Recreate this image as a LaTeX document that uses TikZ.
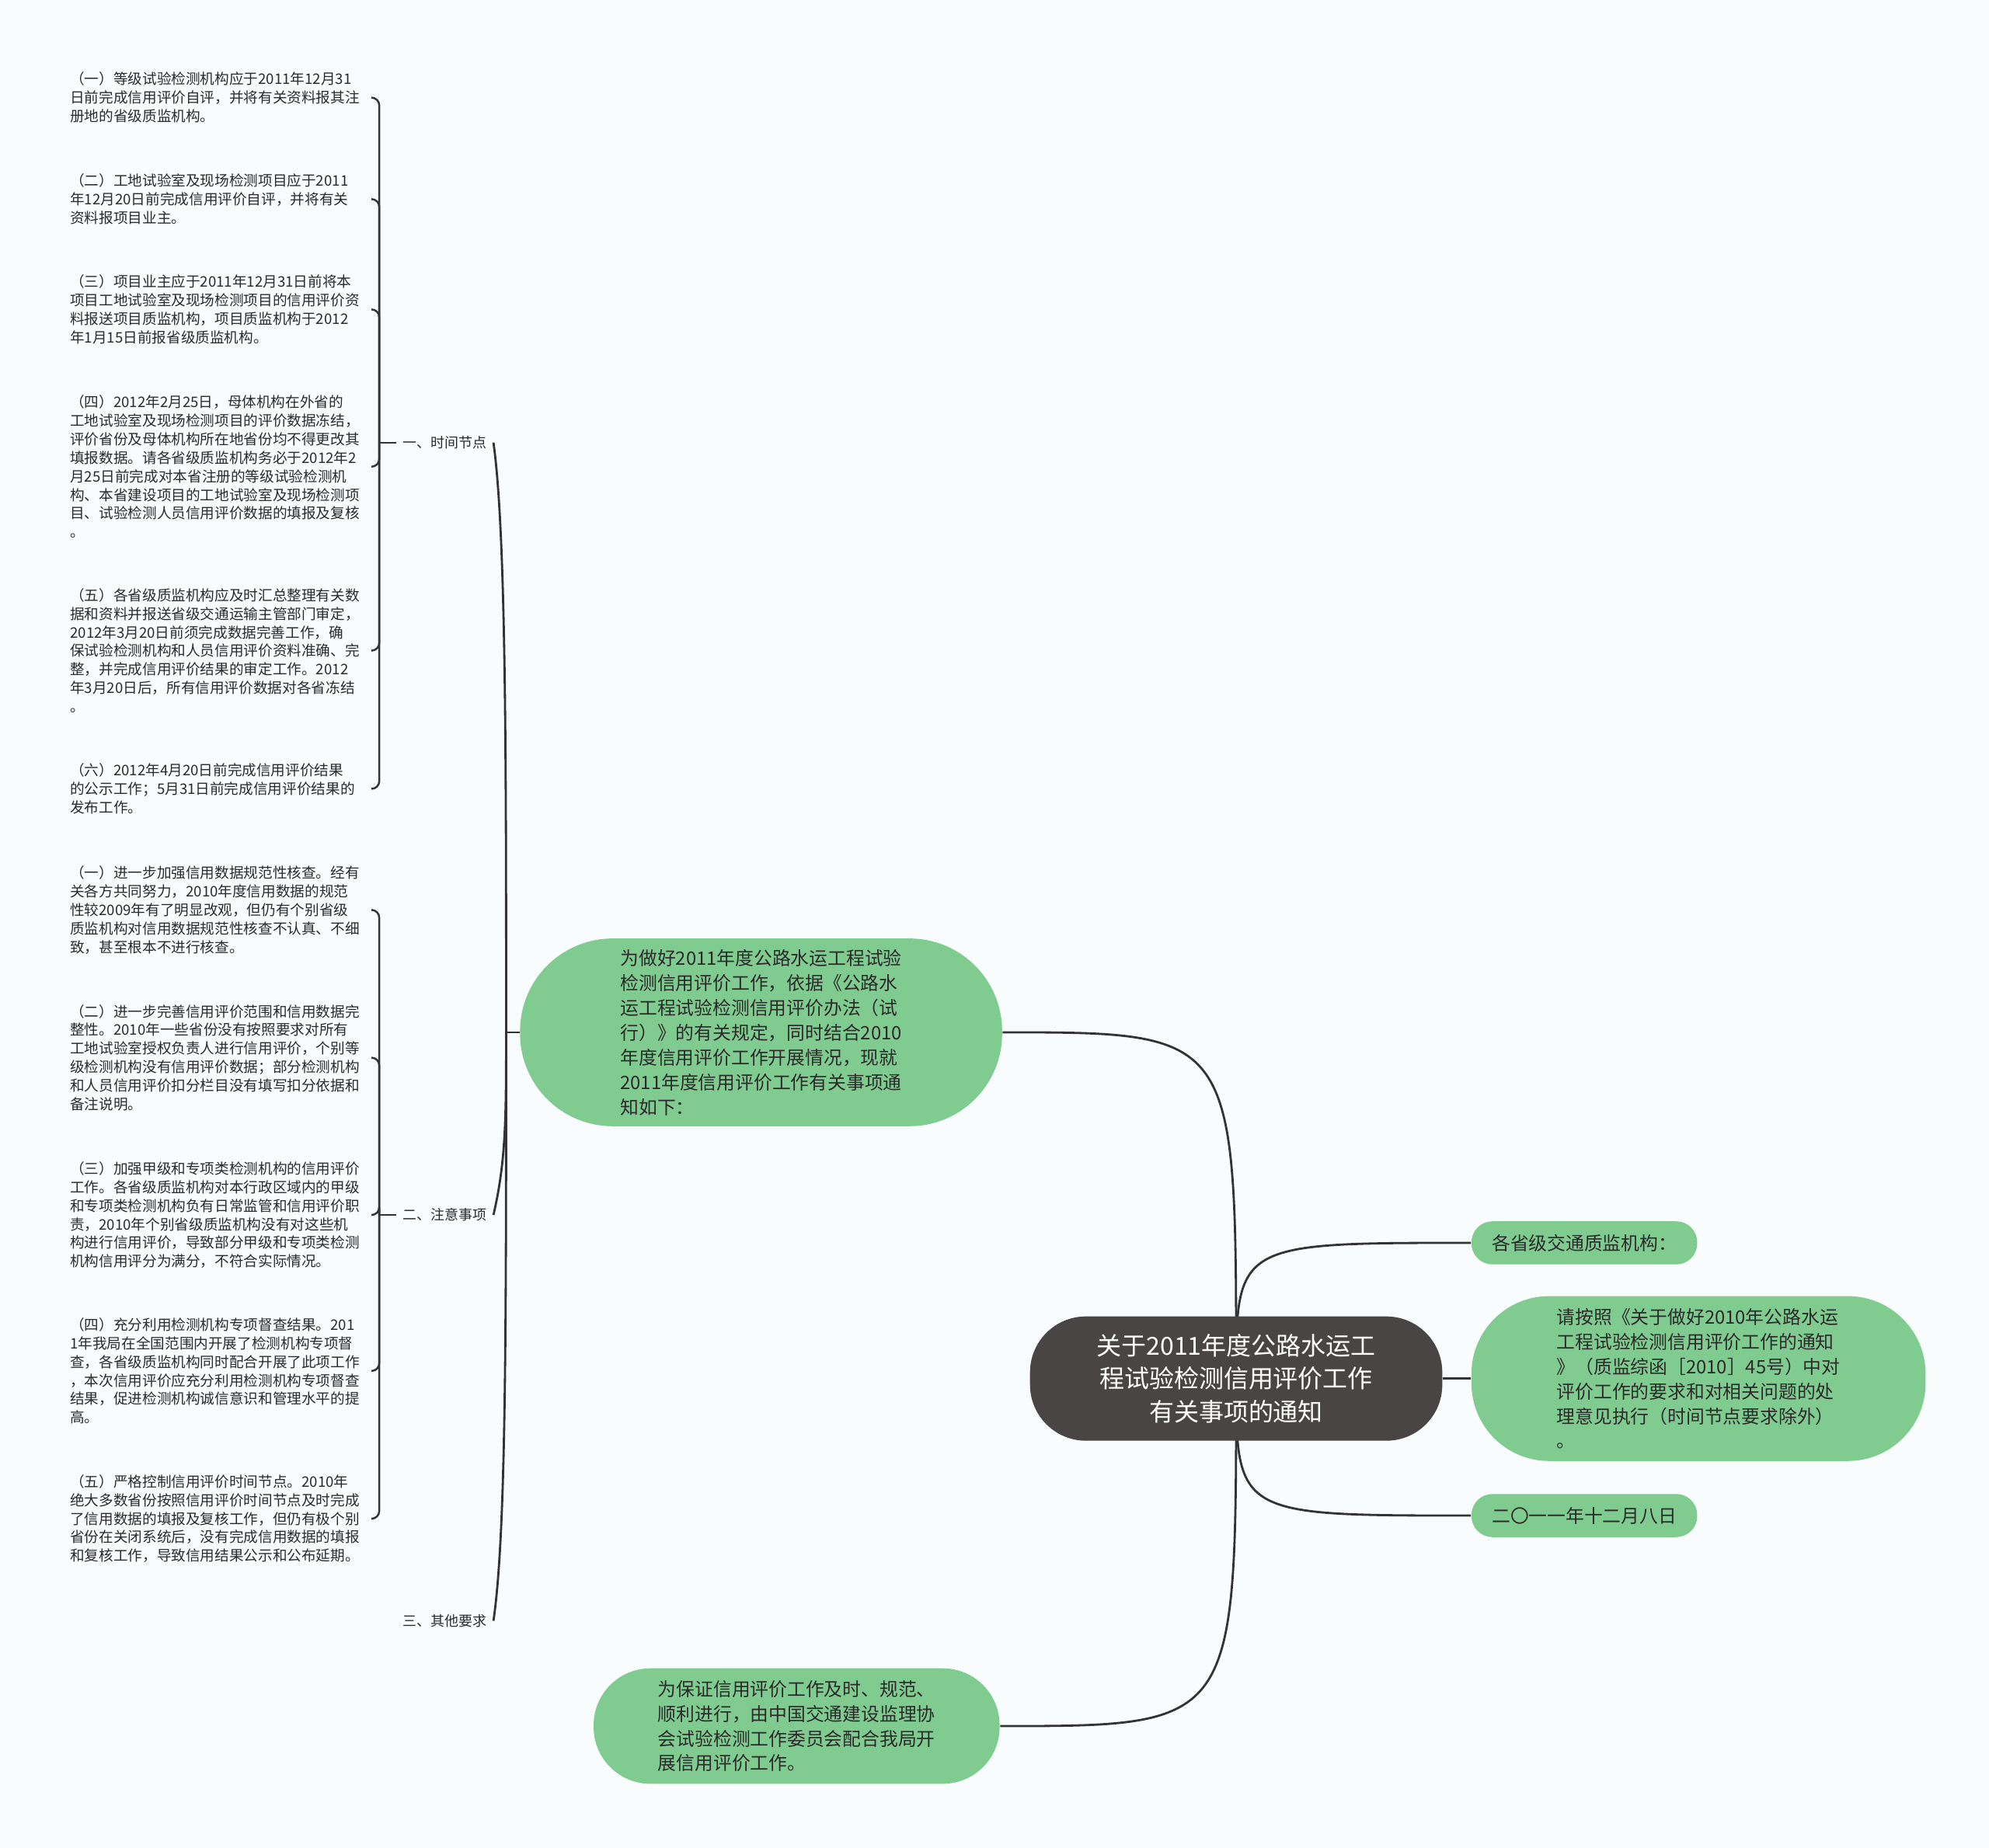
\documentclass[tikz,border=0pt]{standalone}
\usepackage{fontspec}
\newfontfamily\cjk{Noto Sans CJK SC}
\usetikzlibrary{calc}
\definecolor{bgc}{HTML}{F8FCFD}
\definecolor{grn}{HTML}{80CC90}
\definecolor{dk}{HTML}{4A4545}
\definecolor{ln}{HTML}{333333}
\definecolor{tx}{HTML}{2A2A2A}
\pgfdeclarelayer{bgl}
\pgfdeclarelayer{edg}
\pgfsetlayers{bgl,edg,main}
\begin{document}
\begin{tikzpicture}[x=0.016327cm,y=-0.016327cm,
  item/.style={font={\cjk\fontsize{5.3pt}{6.8pt}\selectfont}, text=tx, align=left, text width=3.80cm, inner xsep=0.08cm, inner ysep=0pt, anchor=west},
  lbl/.style={font={\cjk\fontsize{5.1pt}{6.8pt}\selectfont}, text=tx, inner xsep=0.08cm, inner ysep=0pt, anchor=east},
  gbox/.style={fill=grn, text=tx, font={\cjk\fontsize{6.77pt}{9.1pt}\selectfont}, align=left, inner sep=0pt},
  rootbox/.style={fill=dk, text=white, font={\cjk\fontsize{9.1pt}{12pt}\selectfont}, align=center, inner sep=0pt, rounded corners=0.72cm, minimum width=5.306cm, minimum height=1.6cm},
  conn/.style={draw=ln, line width=0.8pt},
  brk/.style={draw=ln, line width=0.7pt, rounded corners=0.1cm}]

\begin{pgfonlayer}{bgl}
\fill[bgc] (0,0) rectangle (1568,1457);
\end{pgfonlayer}
\useasboundingbox (0,0) rectangle (1568,1457);

% root
\node[rootbox] (root) at (974.5,1087) {关于2011年度公路水运工\\程试验检测信用评价工作\\有关事项的通知};

% right children
\node[gbox, rounded corners=0.27cm, minimum width=2.906cm, minimum height=0.555cm] (r1) at (1249,980) {各省级交通质监机构：};
\node[gbox, rounded corners=1.0cm, minimum width=5.845cm, minimum height=2.122cm] (r2) at (1339,1087) {请按照《关于做好2010年公路水运\\工程试验检测信用评价工作的通知\\》（质监综函［2010］45号）中对\\评价工作的要求和对相关问题的处\\理意见执行（时间节点要求除外）\\。};
\node[gbox, rounded corners=0.27cm, minimum width=2.906cm, minimum height=0.555cm] (r3) at (1249,1195) {二〇一一年十二月八日};

% left children
\node[gbox, rounded corners=1.19cm, minimum width=6.204cm, minimum height=2.416cm] (b1) at (600,814) {为做好2011年度公路水运工程试验\\检测信用评价工作，依据《公路水\\运工程试验检测信用评价办法（试\\行）》的有关规定，同时结合2010\\年度信用评价工作开展情况，现就\\2011年度信用评价工作有关事项通\\知如下：};
\node[gbox, rounded corners=0.73cm, minimum width=5.225cm, minimum height=1.486cm] (b2) at (628,1361) {为保证信用评价工作及时、规范、\\顺利进行，由中国交通建设监理协\\会试验检测工作委员会配合我局开\\展信用评价工作。};

% labels
\node[lbl] (l1) at (389,349) {一、时间节点};
\node[lbl] (l2) at (389,958) {二、注意事项};
\node[lbl] (l3) at (389,1278) {三、其他要求};

% group 1 items
\node[item] (t1) at (50,77) {（一）等级试验检测机构应于2011年12月31\\日前完成信用评价自评，并将有关资料报其注\\册地的省级质监机构。};
\node[item] (t2) at (50,157) {（二）工地试验室及现场检测项目应于2011\\年12月20日前完成信用评价自评，并将有关\\资料报项目业主。};
\node[item] (t3) at (50,244) {（三）项目业主应于2011年12月31日前将本\\项目工地试验室及现场检测项目的信用评价资\\料报送项目质监机构，项目质监机构于2012\\年1月15日前报省级质监机构。};
\node[item] (t4) at (50,368) {（四）2012年2月25日，母体机构在外省的\\工地试验室及现场检测项目的评价数据冻结，\\评价省份及母体机构所在地省份均不得更改其\\填报数据。请各省级质监机构务必于2012年2\\月25日前完成对本省注册的等级试验检测机\\构、本省建设项目的工地试验室及现场检测项\\目、试验检测人员信用评价数据的填报及复核\\。};
\node[item] (t5) at (50,513) {（五）各省级质监机构应及时汇总整理有关数\\据和资料并报送省级交通运输主管部门审定，\\2012年3月20日前须完成数据完善工作，确\\保试验检测机构和人员信用评价资料准确、完\\整，并完成信用评价结果的审定工作。2012\\年3月20日后，所有信用评价数据对各省冻结\\。};
\node[item] (t6) at (50,622) {（六）2012年4月20日前完成信用评价结果\\的公示工作；5月31日前完成信用评价结果的\\发布工作。};

% group 2 items
\node[item] (n1) at (50,717.5) {（一）进一步加强信用数据规范性核查。经有\\关各方共同努力，2010年度信用数据的规范\\性较2009年有了明显改观，但仍有个别省级\\质监机构对信用数据规范性核查不认真、不细\\致，甚至根本不进行核查。};
\node[item] (n2) at (50,834) {（二）进一步完善信用评价范围和信用数据完\\整性。2010年一些省份没有按照要求对所有\\工地试验室授权负责人进行信用评价，个别等\\级检测机构没有信用评价数据；部分检测机构\\和人员信用评价扣分栏目没有填写扣分依据和\\备注说明。};
\node[item] (n3) at (50,958) {（三）加强甲级和专项类检测机构的信用评价\\工作。各省级质监机构对本行政区域内的甲级\\和专项类检测机构负有日常监管和信用评价职\\责，2010年个别省级质监机构没有对这些机\\构进行信用评价，导致部分甲级和专项类检测\\机构信用评分为满分，不符合实际情况。};
\node[item] (n4) at (50,1081) {（四）充分利用检测机构专项督查结果。201\\1年我局在全国范围内开展了检测机构专项督\\查，各省级质监机构同时配合开展了此项工作\\，本次信用评价应充分利用检测机构专项督查\\结果，促进检测机构诚信意识和管理水平的提\\高。};
\node[item] (n5) at (50,1197.5) {（五）严格控制信用评价时间节点。2010年\\绝大多数省份按照信用评价时间节点及时完成\\了信用数据的填报及复核工作，但仍有极个别\\省份在关闭系统后，没有完成信用数据的填报\\和复核工作，导致信用结果公示和公布延期。};

\coordinate (j) at (399,814);
\coordinate (k1) at (299,349);
\coordinate (k2) at (299,958);

\begin{pgfonlayer}{edg}
\draw[conn] (root.center) .. controls (root.center |- b1.east) .. (b1.east);
\draw[conn] (root.center) .. controls (root.center |- b2.east) .. (b2.east);
\draw[conn] (root.center) .. controls (root.center |- r1.west) .. (r1.west);
\draw[conn] (root.east) -- (r2.west);
\draw[conn] (root.center) .. controls (root.center |- r3.west) .. (r3.west);

\draw[conn] (b1.west) -- (j);
\draw[conn] (j) .. controls (399,600) and (399,420) .. (l1.east);
\draw[conn] (j) .. controls (399,880) and (399,915) .. (l2.east);
\draw[conn] (j) .. controls (399,1050) and (399,1210) .. (l3.east);

\draw[brk] (k1) -- (l1.west);
\foreach \t in {t1,t2,t3,t4,t5,t6} \draw[brk] (k1) |- (\t.east);
\draw[brk] (k2) -- (l2.west);
\foreach \t in {n1,n2,n3,n4,n5} \draw[brk] (k2) |- (\t.east);
\end{pgfonlayer}
\end{tikzpicture}
\end{document}
